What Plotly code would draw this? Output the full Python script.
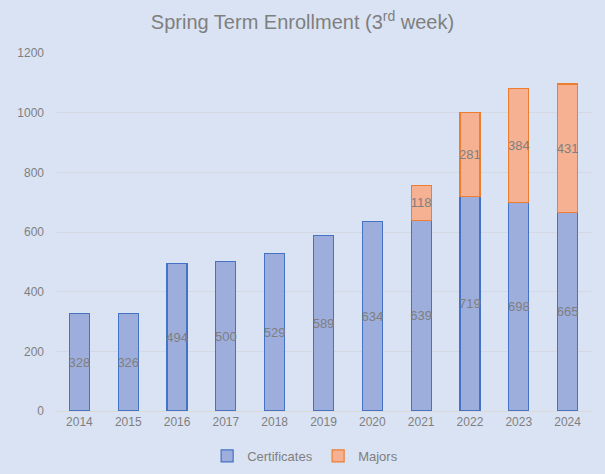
import plotly.graph_objects as go

years = ["2014","2015","2016","2017","2018","2019","2020","2021","2022","2023","2024"]
certificates = [328, 326, 494, 500, 529, 589, 634, 639, 719, 698, 665]
majors = [None, None, None, None, None, None, None, 118, 281, 384, 431]

font = "Liberation Sans, Arial, sans-serif"
gray = "#7F7F7F"
bg = "#DAE3F3"

fig = go.Figure()
fig.add_trace(go.Bar(
    x=years, y=certificates, name="Certificates",
    marker=dict(color="#9DAEDD", line=dict(color="#4472C4", width=1.2)),
    text=certificates, textposition="inside", insidetextanchor="middle", textangle=0,
    textfont=dict(color=gray, size=13, family=font),
))
fig.add_trace(go.Bar(
    x=years, y=majors, name="Majors",
    marker=dict(color="#F6B193", line=dict(color="#ED7D31", width=1.2)),
    text=majors, textposition="inside",
    insidetextanchor="middle", textangle=0,
    textfont=dict(color=gray, size=13, family=font),
))
fig.update_layout(
    width=605, height=474, barmode="stack", bargap=0.59,
    paper_bgcolor=bg, plot_bgcolor=bg,
    margin=dict(l=55, r=13, t=53, b=63, autoexpand=False),
    title=dict(text="Spring Term Enrollment (3<sup>rd</sup> week)", x=0.5, xanchor="center",
               y=0.953, yanchor="middle", font=dict(family=font, size=20, color="#7F7F7F")),
    font=dict(family=font, color=gray, size=12),
    uniformtext=dict(mode="show", minsize=13),
    legend=dict(orientation="h", x=0.49, xanchor="center", yref="container", y=0.038, yanchor="middle",
                font=dict(size=13, color=gray, family=font), bgcolor="rgba(0,0,0,0)",
                traceorder="normal", itemwidth=30, entrywidth=66),
    xaxis=dict(showgrid=False, tickfont=dict(size=12, color=gray), showline=True,
               linecolor="#D9D9D9", linewidth=1, ticks=""),
    yaxis=dict(range=[0, 1200], dtick=200, gridcolor="#D3D8E2", gridwidth=1,
               tickfont=dict(size=12, color=gray), zeroline=False, ticks="", ticklabelstandoff=10),
)
fig.write_html("out.html", config={"displayModeBar": False},
               post_script="document.body.style.margin='0';document.body.style.overflow='hidden';")
